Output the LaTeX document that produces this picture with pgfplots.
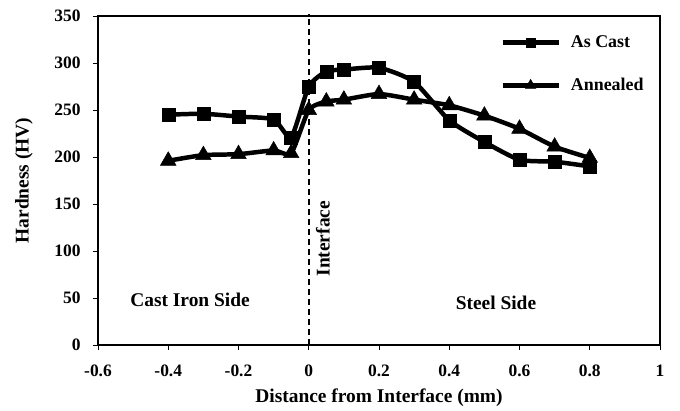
\documentclass[border=0pt]{standalone}
\usepackage{fontspec}
\setmainfont{Liberation Serif}
\usepackage{pgfplots}
\pgfplotsset{compat=1.18}
\begin{document}
\begin{tikzpicture}
\begin{axis}[
  at={(0,0)}, anchor=south west,
  scale only axis, width=562bp, height=329bp,
  xmin=-0.6, xmax=1, ymin=0, ymax=350,
  xtick={-0.6,-0.4,...,1.01}, ytick={0,50,...,350},
  /pgf/number format/assume math mode=true,
  xticklabel style={/pgf/number format/fixed, /pgf/number format/precision=1, anchor=center, yshift=-21bp},
  yticklabel style={anchor=east, xshift=-9bp},
  tick label style={font=\fontsize{17.5}{20}\selectfont\bfseries},
  label style={font=\fontsize{19.5}{22}\selectfont\bfseries},
  xlabel={Distance from Interface (mm)},
  ylabel={Hardness (HV)},
  xlabel style={at={(axis description cs:0.5,0)}, anchor=center, yshift=-53bp},
  ylabel style={at={(axis description cs:0,0.5)}, anchor=center, yshift=74bp},
  axis line style={line width=1.8pt},
  tick style={line width=1pt, black},
  tick align=outside, major tick length=5bp,
  xtick pos=bottom, ytick pos=left,
  clip=false,
  legend style={draw=none, fill=none, at={(axis cs:0.545,331)}, anchor=north west,
    font=\fontsize{18}{20}\selectfont\bfseries, row sep=25bp, column sep=6bp, inner sep=0pt,
    nodes={inner xsep=4bp}},
  legend cell align=left,
  legend image code/.code={\draw[mark repeat=2, mark phase=2, #1] plot coordinates {(0bp,0bp) (28bp,0bp) (56bp,0bp)};},
]
\addlegendimage{black, line width=4.5pt, mark=square*, mark size=4.5bp, mark options={line width=0.5pt}}
\addlegendentry{As Cast}
\addlegendimage{black, line width=4.5pt, mark=triangle*, mark size=6bp, mark options={line width=0.5pt}}
\addlegendentry{Annealed}
\addplot[forget plot, black, line width=4.5pt, smooth, tension=0.35, mark=square*, mark size=6.5bp, mark options={line width=0.5pt}] coordinates {
(-0.4,245) (-0.3,246) (-0.2,243) (-0.1,240) (-0.05,221) (0,275) (0.05,291) (0.1,293) (0.2,295) (0.3,280) (0.4,239) (0.5,216) (0.6,197) (0.7,195) (0.8,190)};
\addplot[forget plot, black, line width=4.5pt, smooth, tension=0.35, mark=triangle*, mark size=9bp, mark options={line width=0.5pt}] coordinates {
(-0.4,196) (-0.3,202) (-0.2,203) (-0.1,207) (-0.05,204) (0,250) (0.05,259) (0.1,261) (0.2,267) (0.3,261) (0.4,255) (0.5,244) (0.6,230) (0.7,211) (0.8,199)};
\draw[dash pattern=on 6bp off 4bp, line width=2pt] (axis cs:0,0) -- (axis cs:0,352);
\node[rotate=90, font=\fontsize{19.5}{22}\selectfont\bfseries] at (axis cs:0.04,113) {Interface};
\node[font=\fontsize{19.5}{22}\selectfont\bfseries] at (axis cs:-0.338,48) {Cast Iron Side};
\node[font=\fontsize{19.5}{22}\selectfont\bfseries] at (axis cs:0.533,44.5) {Steel Side};
\end{axis}
\path[use as bounding box] (-98bp,-64bp) rectangle (582bp,345bp);
\end{tikzpicture}
\end{document}
